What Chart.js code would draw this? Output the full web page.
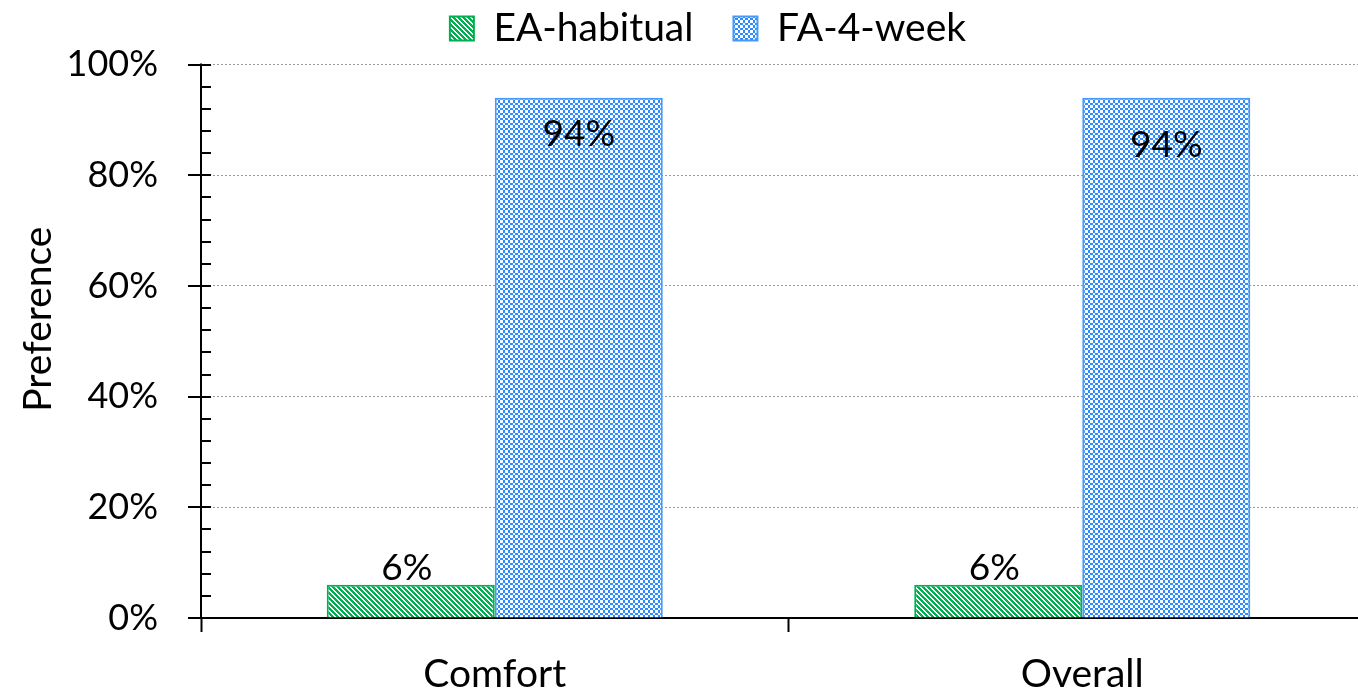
<!DOCTYPE html>
<html>
<head>
<meta charset="utf-8">
<script src="https://cdn.jsdelivr.net/npm/chart.js@4.4.1/dist/chart.umd.min.js"></script>
<style>
  html, body { margin: 0; padding: 0; overflow: hidden; background: #ffffff; }
  #wrap { position: relative; width: 1400px; height: 690px; }
</style>
</head>
<body>
<div id="wrap"><canvas id="chart"></canvas></div>
<script>
// Preference for each condition, in percent
const categories = ['Comfort', 'Overall'];
const seriesNames = ['EA-habitual', 'FA-4-week'];
const eaHabitual = [6, 6];
const fa4Week = [94, 94];
const yTickValues = [0, 20, 40, 60, 80, 100];
const yAxisTitle = 'Preference';

const NUM_FONT = { family: 'Lato', size: 36 };
const TEXT_FONT = { family: 'Lato', size: 39 };
const GREEN = '#00B050';
const BLUE = '#2F8CFF';

// Wide downward diagonal hatch
function stripePattern(color) {
  const c = document.createElement('canvas');
  c.width = 5; c.height = 5;
  const g = c.getContext('2d');
  g.fillStyle = '#ffffff';
  g.fillRect(0, 0, 5, 5);
  g.fillStyle = color;
  for (let y = 0; y < 5; y++) {
    for (let x = 0; x < 5; x++) {
      if ((((x - y) % 5) + 5) % 5 < 3) g.fillRect(x, y, 1, 1);
    }
  }
  return g.createPattern(c, 'repeat');
}

// Small checkerboard
function checkerPattern(color) {
  const c = document.createElement('canvas');
  c.width = 5; c.height = 5;
  const g = c.getContext('2d');
  g.fillStyle = '#ffffff';
  g.fillRect(0, 0, 5, 5);
  g.fillStyle = color;
  for (let y = 0; y < 5; y++) {
    for (let x = 0; x < 5; x++) {
      if ((x < 3) !== (y < 3)) g.fillRect(x, y, 1, 1);
    }
  }
  return g.createPattern(c, 'repeat');
}

// Extra room between the legend row and the plot
const legendSpacing = {
  id: 'legendSpacing',
  beforeLayout(chart, args, opts) {
    const lg = chart.legend;
    if (lg && !lg.__spaced) {
      const baseFit = lg.fit;
      lg.fit = function () {
        baseFit.call(this);
        this.height += opts.extra || 0;
      };
      lg.__spaced = true;
    }
  }
};

// Vertical axis line with major (crossing) and minor (inside) tick marks,
// plus the rotated axis title
const valueAxisMarks = {
  id: 'valueAxisMarks',
  afterDraw(chart, args, opts) {
    const ys = chart.scales.y;
    const x0 = chart.chartArea.left;
    const ctx = chart.ctx;
    ctx.save();
    ctx.strokeStyle = '#000';
    ctx.lineWidth = 2;
    ctx.beginPath();
    ctx.moveTo(x0, ys.getPixelForValue(ys.max) - 1);
    ctx.lineTo(x0, ys.getPixelForValue(ys.min));
    ctx.stroke();
    for (let v = ys.min; v <= ys.max + 1e-9; v += opts.minorStep) {
      const py = Math.round(ys.getPixelForValue(v));
      const major = Math.abs(v % opts.majorStep) < 1e-9;
      ctx.beginPath();
      ctx.moveTo(x0 - (major ? opts.majorOut : 0), py);
      ctx.lineTo(x0 + opts.inLen, py);
      ctx.stroke();
    }
    // axis title, centred a little above the middle of the value range
    const ty = ys.getPixelForValue(opts.titleAt);
    ctx.translate(opts.titleBaselineX, ty);
    ctx.rotate(-Math.PI / 2);
    ctx.font = `${opts.titleFont.size}px ${opts.titleFont.family}`;
    ctx.fillStyle = '#000';
    ctx.textAlign = 'center';
    ctx.textBaseline = 'alphabetic';
    ctx.fillText(opts.title, 0, 0);
    ctx.restore();
  }
};

// Percent labels on the bars
const barValueLabels = {
  id: 'barValueLabels',
  afterDatasetsDraw(chart, args, opts) {
    const ctx = chart.ctx;
    ctx.save();
    ctx.font = `${opts.font.size}px ${opts.font.family}`;
    ctx.fillStyle = '#000';
    ctx.textAlign = 'center';
    ctx.textBaseline = 'alphabetic';
    chart.data.datasets.forEach((ds, di) => {
      const meta = chart.getDatasetMeta(di);
      meta.data.forEach((bar, i) => {
        const text = ds.data[i] + '%';
        let y;
        if (opts.inside[di]) {
          y = bar.y + opts.insideBaseline[i];
        } else {
          y = bar.y - opts.outsideGap;
        }
        ctx.fillText(text, bar.x + (opts.inside[di] ? 0 : -4), y);
      });
    });
    ctx.restore();
  }
};

new Chart(document.getElementById('chart'), {
  type: 'bar',
  data: {
    labels: categories,
    datasets: [
      {
        label: seriesNames[0],
        data: eaHabitual,
        backgroundColor: stripePattern(GREEN),
        borderColor: GREEN,
        borderWidth: 2,
        borderSkipped: 'start'
      },
      {
        label: seriesNames[1],
        data: fa4Week,
        backgroundColor: checkerPattern(BLUE),
        borderColor: '#4599F8',
        borderWidth: 2,
        borderSkipped: 'start'
      }
    ]
  },
  plugins: [legendSpacing, valueAxisMarks, barValueLabels],
  options: {
    responsive: true,
    maintainAspectRatio: false,
    animation: false,
    events: [],
    layout: { padding: { top: -32.5, left: 40, right: 24, bottom: 0 } },
    datasets: {
      bar: { categoryPercentage: 0.572, barPercentage: 1.0 }
    },
    plugins: {
      legend: {
        position: 'top',
        align: 'center',
        labels: {
          font: TEXT_FONT,
          color: '#000',
          boxWidth: 24,
          boxHeight: 24,
          padding: 40
        }
      },
      tooltip: { enabled: false },
      legendSpacing: { extra: 6.5 },
      valueAxisMarks: {
        minorStep: 4, majorStep: 20, majorOut: 13, inLen: 10,
        title: yAxisTitle, titleFont: TEXT_FONT, titleAt: 54, titleBaselineX: 51
      },
      barValueLabels: {
        font: { family: 'Lato', size: 37 },
        inside: [false, true],
        insideBaseline: [48, 59],
        outsideGap: 5
      }
    },
    scales: {
      x: {
        z: 1,
        offset: true,
        grid: {
          offset: true,
          display: true,
          drawOnChartArea: false,
          drawTicks: true,
          tickLength: 14,
          tickColor: '#000',
          tickWidth: 2,
          color: '#000'
        },
        border: { display: true, color: '#000', width: 2 },
        ticks: { font: TEXT_FONT, color: '#000', padding: 19 },
        afterFit(scale) { scale.height = 72; }
      },
      y: {
        min: 0,
        max: 100,
        afterBuildTicks(scale) {
          scale.ticks = yTickValues.map(v => ({ value: v }));
        },
        grid: {
          drawTicks: false,
          lineWidth: 1,
          color: (c) => (c.tick && c.tick.value === 0 ? 'rgba(0,0,0,0)' : '#9a9a9a')
        },
        border: { display: false, dash: [2, 2] },
        ticks: {
          font: NUM_FONT,
          color: '#000',
          padding: 43,
          callback: (v) => v + '%'
        },
        afterFit(scale) { scale.width = 161; }
      }
    }
  }
});
</script>
</body>
</html>
